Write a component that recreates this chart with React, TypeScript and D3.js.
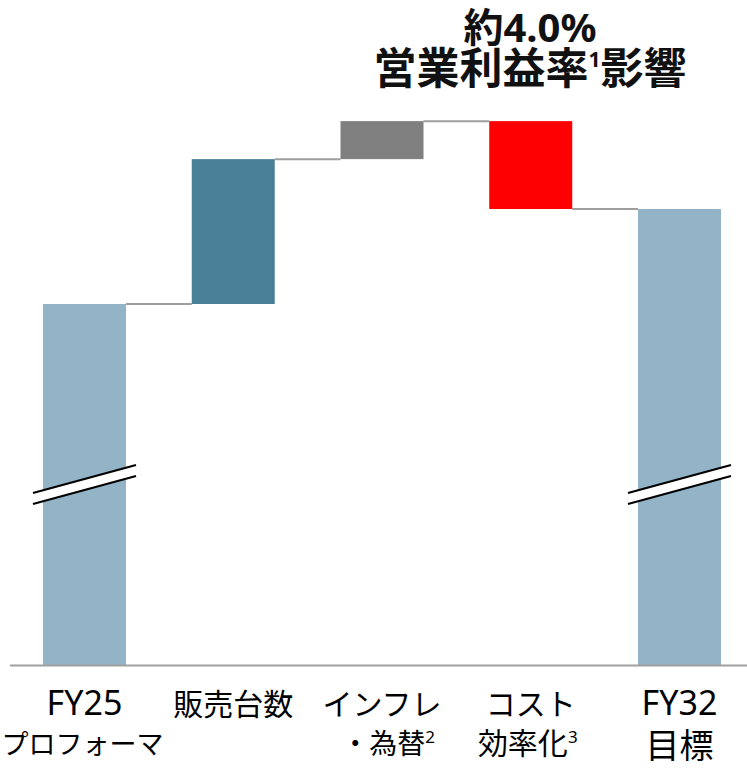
import React, { useEffect, useRef } from 'react';
import * as d3 from 'd3';

// categories (two label lines each)
const categories = ['FY25', '販売台数', 'インフレ・為替', 'コスト効率化', 'FY32'];
const labelLine1 = ['FY25', '販売台数', 'インフレ', 'コスト', 'FY32'];
const labelLine2 = ['プロフォーマ', '', '・為替', '効率化', '目標'];
const labelSup = ['', '', '2', '3', ''];

// operating margin, % (axis broken; base value is display only)
const baseStart = 15.2;
const deltas = [6.1, 1.6, -3.7];
const baseEnd = 19.2;
const breakValue = 7.6;

const titleLine1 = '約4.0%';
const titleLine2a = '営業利益率';
const titleSup = '1';
const titleLine2b = '影響';

const WIDTH = 747;
const HEIGHT = 768;

const COLOR_TOTAL = '#93B3C7';
const COLOR_UP = ['#4A7F98', '#808080'];
const COLOR_DOWN = '#FF0000';
const COLOR_CONNECT = '#9E9E9E';

const FONT = '"Noto Sans", "Noto Sans CJK JP", sans-serif';

const App: React.FC = () => {
  const svgRef = useRef<SVGSVGElement>(null);

  useEffect(() => {
    if (!svgRef.current) return;
    d3.select(svgRef.current).selectAll('*').remove();

    const svg = d3.select(svgRef.current)
      .attr('width', WIDTH)
      .attr('height', HEIGHT);

    const x = d3.scaleBand<string>()
      .domain(categories)
      .range([43, 721])
      .paddingInner(0.442)
      .paddingOuter(0);

    const y = d3.scaleLinear()
      .domain([0, 28])
      .range([665, 0]);

    // build waterfall segments
    type Seg = { cat: string; y0: number; y1: number; color: string; total: boolean };
    const segs: Seg[] = [];
    segs.push({ cat: categories[0], y0: 0, y1: baseStart, color: COLOR_TOTAL, total: true });
    let run = baseStart;
    deltas.forEach((d, i) => {
      segs.push({
        cat: categories[i + 1],
        y0: run,
        y1: run + d,
        color: d >= 0 ? COLOR_UP[i] : COLOR_DOWN,
        total: false,
      });
      run += d;
    });
    segs.push({ cat: categories[4], y0: 0, y1: baseEnd, color: COLOR_TOTAL, total: true });

    // connectors
    const levels = [baseStart];
    deltas.reduce((acc, d) => { levels.push(acc + d); return acc + d; }, baseStart);
    svg.append('g')
      .selectAll('line')
      .data(levels)
      .enter()
      .append('line')
      .attr('x1', (_, i) => (x(categories[i]) ?? 0) + x.bandwidth())
      .attr('x2', (_, i) => x(categories[i + 1]) ?? 0)
      .attr('y1', d => y(d))
      .attr('y2', d => y(d))
      .attr('stroke', COLOR_CONNECT)
      .attr('stroke-width', 2);

    // bars
    svg.append('g')
      .selectAll('rect')
      .data(segs)
      .enter()
      .append('rect')
      .attr('x', d => x(d.cat) ?? 0)
      .attr('width', x.bandwidth())
      .attr('y', d => y(Math.max(d.y0, d.y1)))
      .attr('height', d => Math.abs(y(d.y0) - y(d.y1)))
      .attr('fill', d => d.color);

    // axis break marks on the total bars
    const gap = 11;
    const rise = 28;
    segs.filter(d => d.total).forEach(d => {
      const x0 = (x(d.cat) ?? 0) - 10;
      const x1 = (x(d.cat) ?? 0) + x.bandwidth() + 10;
      const yc = y(breakValue);
      const top0 = yc + rise / 2 - gap / 2;
      const top1 = yc - rise / 2 - gap / 2;
      const g = svg.append('g');
      g.append('path')
        .attr('d', `M${x0},${top0}L${x1},${top1}L${x1},${top1 + gap}L${x0},${top0 + gap}Z`)
        .attr('fill', '#fff');
      [0, gap].forEach(off => {
        g.append('line')
          .attr('x1', x0).attr('y1', top0 + off)
          .attr('x2', x1).attr('y2', top1 + off)
          .attr('stroke', '#000')
          .attr('stroke-width', 2.2);
      });
    });

    // baseline
    svg.append('line')
      .attr('x1', 10)
      .attr('x2', WIDTH)
      .attr('y1', y(0) + 0.5)
      .attr('y2', y(0) + 0.5)
      .attr('stroke', '#A0A0A0')
      .attr('stroke-width', 2);

    // category labels
    const labels = svg.append('g')
      .attr('font-family', FONT)
      .attr('fill', '#000')
      .attr('text-anchor', 'middle');

    const line2Shift = [-2, 0, 6, -3, 0];
    const line2Size = [27, 28, 28, 30, 34];

    categories.forEach((c, i) => {
      const cx = (x(c) ?? 0) + x.bandwidth() / 2;
      const isTotal = i === 0 || i === 4;
      labels.append('text')
        .attr('x', cx)
        .attr('y', 715)
        .attr('font-size', isTotal ? 34 : 30)
        .text(labelLine1[i]);
      if (!labelLine2[i]) return;
      const t2 = labels.append('text')
        .attr('x', cx + line2Shift[i])
        .attr('y', i === 4 ? 758 : 754)
        .attr('font-size', line2Size[i]);
      t2.append('tspan').text(labelLine2[i]);
      if (labelSup[i]) {
        t2.append('tspan')
          .attr('font-size', 17)
          .attr('dy', -11)
          .text(labelSup[i]);
      }
    });

    // title
    const title = svg.append('g')
      .attr('font-family', FONT)
      .attr('font-weight', 'bold')
      .attr('fill', '#111')
      .attr('text-anchor', 'middle');
    title.append('text')
      .attr('x', 530)
      .attr('y', 42)
      .attr('font-size', 40)
      .text(titleLine1);
    const t = title.append('text')
      .attr('x', 530)
      .attr('y', 84)
      .attr('font-size', 43);
    t.append('tspan').text(titleLine2a);
    t.append('tspan').attr('font-size', 21).attr('dy', -17).text(titleSup);
    t.append('tspan').attr('dy', 17).text(titleLine2b);
  }, []);

  return (
    <svg ref={svgRef} style={{ position: 'absolute', left: 0, top: 0, background: '#fff' }} />
  );
};

export default App;
